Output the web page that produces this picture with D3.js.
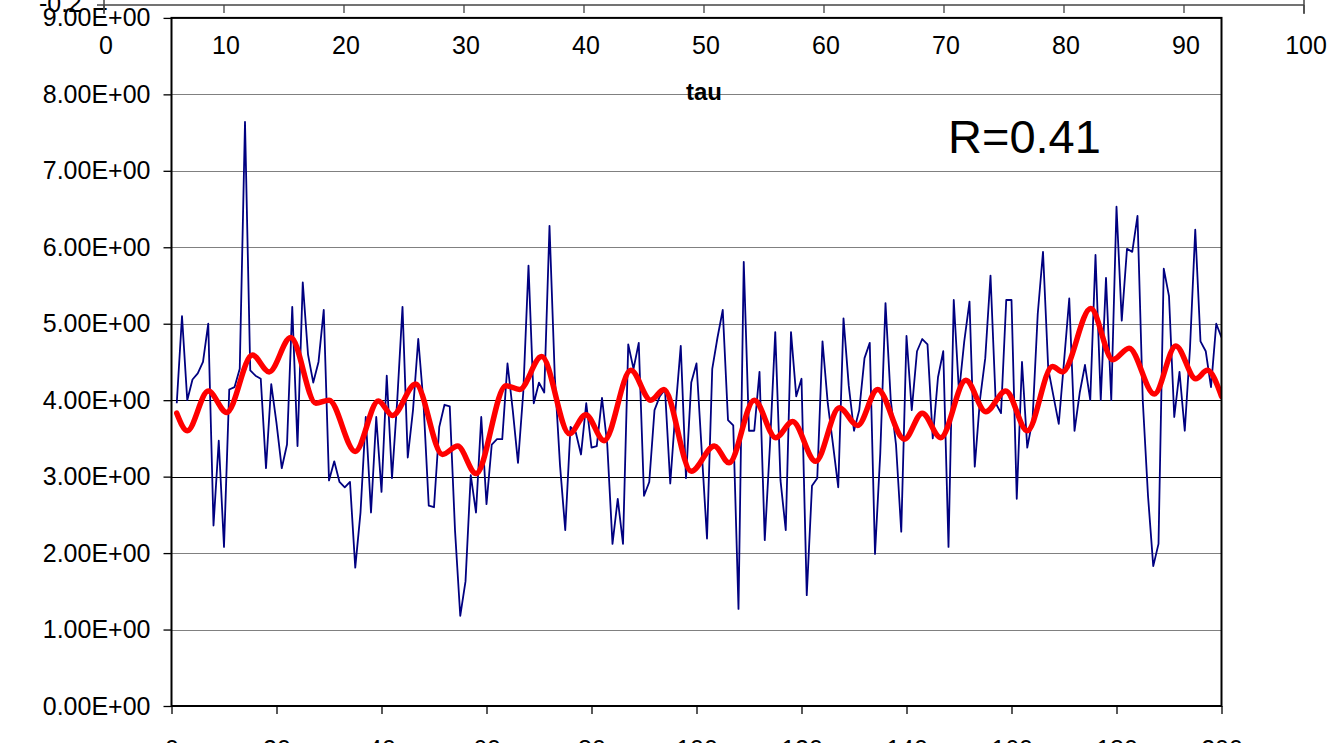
<!DOCTYPE html>
<html>
<head>
<meta charset="utf-8">
<script src="https://cdn.jsdelivr.net/npm/d3@7"></script>
<style>
  html, body { margin: 0; padding: 0; background: #fff; overflow: hidden; }
  svg { display: block; font-family: "Liberation Sans", Arial, sans-serif; }
</style>
</head>
<body>
<svg id="chart" width="1334" height="743"></svg>
<script>
// Measured series (index 1..200)
const seriesValues = [
  3.96, 5.10, 4.00, 4.27, 4.35, 4.50, 5.00, 2.36, 3.47, 2.08,
  4.14, 4.17, 4.41, 7.64, 4.39, 4.32, 4.28, 3.11, 4.21, 3.70,
  3.11, 3.42, 5.22, 3.40, 5.54, 4.60, 4.23, 4.50, 5.18, 2.95,
  3.20, 2.93, 2.86, 2.93, 1.81, 2.53, 3.78, 2.53, 3.78, 2.80,
  4.32, 2.98, 4.00, 5.22, 3.25, 3.87, 4.80, 3.96, 2.62, 2.60,
  3.65, 3.94, 3.92, 2.30, 1.18, 1.63, 3.02, 2.53, 3.78, 2.64,
  3.42, 3.49, 3.49, 4.48, 3.87, 3.18, 4.10, 5.76, 3.96, 4.23,
  4.10, 6.28, 4.32, 3.15, 2.30, 3.65, 3.58, 3.29, 3.96, 3.38,
  3.40, 4.03, 3.42, 2.12, 2.71, 2.12, 4.73, 4.41, 4.75, 2.75,
  2.93, 3.87, 4.05, 4.14, 2.91, 3.87, 4.71, 2.98, 4.23, 4.48,
  3.33, 2.19, 4.41, 4.82, 5.18, 3.74, 3.67, 1.27, 5.81, 3.60,
  3.60, 4.37, 2.17, 3.42, 4.89, 2.95, 2.30, 4.89, 4.05, 4.28,
  1.45, 2.88, 2.98, 4.77, 3.96, 3.42, 2.86, 5.07, 4.19, 3.60,
  3.87, 4.55, 4.75, 1.99, 3.30, 5.27, 4.00, 3.42, 2.28, 4.84,
  3.87, 4.64, 4.80, 4.73, 3.50, 4.30, 4.64, 2.08, 5.31, 4.10,
  4.77, 5.29, 3.13, 4.01, 4.55, 5.63, 3.96, 3.83, 5.31, 5.31,
  2.71, 4.50, 3.38, 3.74, 5.13, 5.94, 4.41, 4.05, 3.69, 4.50,
  5.33, 3.60, 4.10, 4.46, 4.00, 5.90, 4.00, 5.60, 4.00, 6.53,
  5.04, 5.98, 5.94, 6.41, 4.00, 2.75, 1.83, 2.12, 5.72, 5.36,
  3.78, 4.37, 3.60, 4.68, 6.23, 4.77, 4.64, 4.17, 5.00, 4.82
];

// Smoothed curve: positions and levels of its turning points
const smoothX = [1, 3, 7, 10.5, 15.4, 18.6, 22.7, 27.5, 30, 35, 39.4, 42.1, 46.5, 51.6, 54.5, 58,
  63.7, 66.3, 70.5, 75.8, 78.9, 82.4, 87.5, 91.3, 93.8, 99, 103.4, 106.2, 111, 115.1, 118.3,
  122.7, 127.2, 130.7, 134.5, 139.6, 143, 146.5, 151.3, 155.1, 158.9, 163, 167.8, 169.7,
  175.1, 179.3, 182.4, 187.2, 191.3, 195.1, 197.3, 200];
const smoothY = [3.83, 3.6, 4.12, 3.84, 4.59, 4.37, 4.82, 3.96, 4.0, 3.33, 3.99, 3.8, 4.21, 3.29, 3.4, 3.04,
  4.19, 4.14, 4.57, 3.56, 3.81, 3.47, 4.39, 4.0, 4.14, 3.07, 3.4, 3.18, 4.0, 3.51, 3.72,
  3.2, 3.9, 3.67, 4.14, 3.49, 3.83, 3.51, 4.26, 3.85, 4.12, 3.6, 4.44, 4.37,
  5.2, 4.53, 4.68, 4.08, 4.71, 4.28, 4.39, 4.05];

const yTicks = [0, 1, 2, 3, 4, 5, 6, 7, 8, 9];
const xTicks = [0, 20, 40, 60, 80, 100, 120, 140, 160, 180, 200];
const tauTicks = [0, 10, 20, 30, 40, 50, 60, 70, 80, 90, 100];
const tauLabel = "tau";
const topValueLabel = "-0.2";
const rLabel = "R=0.41";

const svg = d3.select("#chart");

const x = d3.scaleLinear().domain([0, 200]).range([171.5, 1221.5]);
const y = d3.scaleLinear().domain([0, 9]).range([706, 17.9]);
const tauX = d3.scaleLinear().domain([0, 100]).range([104, 1304]);

const fmt = v => v.toFixed(2) + "E+00";

// gridlines
svg.append("g")
  .selectAll("line")
  .data(yTicks.filter(v => v > 0 && v < 9))
  .join("line")
  .attr("x1", x(0)).attr("x2", x(200))
  .attr("y1", d => Math.round(y(d)) + 0.5).attr("y2", d => Math.round(y(d)) + 0.5)
  .attr("stroke", d => (d === 3 || d === 4) ? "#000" : "#808080")
  .attr("stroke-width", 1.2);

// y axis
const yAxis = svg.append("g")
  .attr("transform", `translate(${x(0)},0)`)
  .call(d3.axisLeft(y).tickValues(yTicks).tickFormat(fmt).tickSize(8).tickPadding(13));
yAxis.select(".domain").remove();
yAxis.selectAll(".tick line").attr("stroke", "#000").attr("stroke-width", 1.3);
yAxis.selectAll(".tick text")
  .attr("font-size", 25).attr("fill", "#000")
  .attr("font-family", "Liberation Sans, Arial, sans-serif");

// x axis (labels sit low, partly below the page edge)
const xAxis = svg.append("g")
  .attr("transform", `translate(0,${y(0)})`)
  .call(d3.axisBottom(x).tickValues(xTicks).tickFormat(d3.format("d")).tickSize(8).tickPadding(26));
xAxis.select(".domain").remove();
xAxis.selectAll(".tick line").attr("stroke", "#000").attr("stroke-width", 1.3);
xAxis.selectAll(".tick text")
  .attr("font-size", 25).attr("fill", "#000")
  .attr("font-family", "Liberation Sans, Arial, sans-serif");

// series lines, clipped to the plot frame
svg.append("clipPath").attr("id", "plotClip")
  .append("rect").attr("x", x(0)).attr("y", y(9)).attr("width", x(200) - x(0)).attr("height", y(0) - y(9));

const plot = svg.append("g").attr("clip-path", "url(#plotClip)");

const rawLine = d3.line()
  .x((d, i) => x(i + 1))
  .y(d => y(d));

plot.append("path")
  .datum(seriesValues)
  .attr("d", rawLine)
  .attr("fill", "none")
  .attr("stroke", "#000080")
  .attr("stroke-width", 1.8)
  .attr("stroke-linejoin", "round");

const smoothLine = d3.line()
  .x(d => x(d[0]))
  .y(d => y(d[1]))
  .curve(d3.curveMonotoneX);

plot.append("path")
  .datum(d3.zip(smoothX, smoothY))
  .attr("d", smoothLine)
  .attr("fill", "none")
  .attr("stroke", "#ff0000")
  .attr("stroke-width", 5.5)
  .attr("stroke-linejoin", "round")
  .attr("stroke-linecap", "round");

// plot frame
svg.append("rect")
  .attr("x", x(0)).attr("y", y(9))
  .attr("width", x(200) - x(0)).attr("height", y(0) - y(9))
  .attr("fill", "none").attr("stroke", "#000").attr("stroke-width", 2);

// overlapping axis strip at the top (tau axis)
const tauStrip = svg.append("g");
tauStrip.append("line")
  .attr("x1", tauX(0)).attr("x2", tauX(100))
  .attr("y1", 5).attr("y2", 5)
  .attr("stroke", "#444").attr("stroke-width", 1.5);
tauStrip.append("line")
  .attr("x1", tauX(0)).attr("x2", tauX(0))
  .attr("y1", 0).attr("y2", 14)
  .attr("stroke", "#444").attr("stroke-width", 1.5);
tauStrip.append("line")
  .attr("x1", tauX(100)).attr("x2", tauX(100))
  .attr("y1", 0).attr("y2", 14)
  .attr("stroke", "#444").attr("stroke-width", 1.5);
tauStrip.append("line")
  .attr("x1", tauX(0) - 7).attr("x2", tauX(0))
  .attr("y1", 5).attr("y2", 5)
  .attr("stroke", "#444").attr("stroke-width", 1.5);
tauStrip.selectAll("line.tk")
  .data(tauTicks)
  .join("line")
  .attr("class", "tk")
  .attr("x1", d => tauX(d)).attr("x2", d => tauX(d))
  .attr("y1", 5).attr("y2", 13)
  .attr("stroke", "#444").attr("stroke-width", 1.3);
tauStrip.selectAll("text.tl")
  .data(tauTicks)
  .join("text")
  .attr("class", "tl")
  .attr("x", d => tauX(d) + 2)
  .attr("y", 54)
  .attr("text-anchor", "middle")
  .attr("font-size", 25)
  .text(d => d);
tauStrip.append("text")
  .attr("x", 82).attr("y", 12)
  .attr("text-anchor", "end")
  .attr("font-size", 25)
  .text(topValueLabel);
tauStrip.append("text")
  .attr("x", 704).attr("y", 100)
  .attr("text-anchor", "middle")
  .attr("font-size", 24)
  .attr("font-weight", "bold")
  .text(tauLabel);

// correlation annotation
svg.append("text")
  .attr("x", 948).attr("y", 153)
  .attr("font-size", 47)
  .text(rLabel);
</script>
</body>
</html>
